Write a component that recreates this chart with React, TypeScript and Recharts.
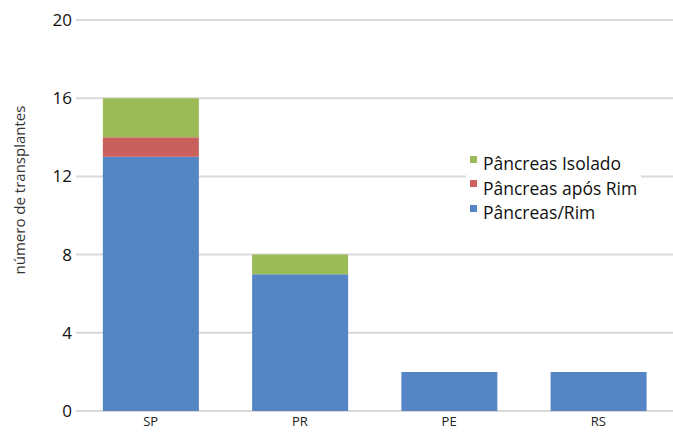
import React from 'react'
import { BarChart, Bar, XAxis, YAxis, CartesianGrid } from 'recharts'

const states = ['SP', 'PR', 'PE', 'RS']
const pancreasRim = [13, 7, 2, 2]
const pancreasAposRim = [1, 0, 0, 0]
const pancreasIsolado = [2, 1, 0, 0]
const yTicks = [0, 4, 8, 12, 16, 20]

const series = [
  { key: 'isolado', name: 'Pâncreas Isolado', color: '#9bbb59' },
  { key: 'aposRim', name: 'Pâncreas após Rim', color: '#c9605b' },
  { key: 'rim', name: 'Pâncreas/Rim', color: '#5585c4' }
]

const data = states.map((s, i) => ({
  state: s,
  rim: pancreasRim[i],
  aposRim: pancreasAposRim[i],
  isolado: pancreasIsolado[i]
}))

const font = '"Open Sans", "Liberation Sans", sans-serif'

export default function App() {
  return (
    <div style={{ position: 'absolute', left: 0, top: 0, width: 673, height: 432, background: '#fff', fontFamily: font }}>
      <BarChart
        width={673}
        height={432}
        data={data}
        margin={{ top: 20, right: 0, bottom: 0, left: 0 }}
        barCategoryGap="18%"
      >
        <CartesianGrid vertical={false} stroke="#d9d9d9" strokeWidth={2} />
        <XAxis
          dataKey="state"
          height={21}
          axisLine={false}
          tickLine={false}
          tickSize={0}
          tickMargin={6}
          tick={{ fontSize: 13, fill: '#222', fontFamily: font }}
        />
        <YAxis
          width={76}
          domain={[0, 20]}
          ticks={yTicks}
          axisLine={false}
          tickLine={false}
          tickSize={0}
          tickMargin={4}
          tick={{ fontSize: 17, fill: '#111', fontFamily: font }}
        />
        <Bar dataKey="rim" stackId="a" fill="#5585c4" isAnimationActive={false} />
        <Bar dataKey="aposRim" stackId="a" fill="#c9605b" isAnimationActive={false} />
        <Bar dataKey="isolado" stackId="a" fill="#9bbb59" isAnimationActive={false} />
      </BarChart>
      <div
        style={{
          position: 'absolute',
          left: 19,
          top: 190,
          transform: 'translate(-50%, -50%) rotate(-90deg)',
          whiteSpace: 'nowrap',
          fontSize: 15,
          color: '#333'
        }}
      >
        número de transplantes
      </div>
      <div style={{ position: 'absolute', left: 466, top: 149, background: '#fff', padding: '2px 4px' }}>
        {series.map((s) => (
          <div key={s.key} style={{ display: 'flex', alignItems: 'center', height: 24.5, fontSize: 17.5, color: '#111' }}>
            <span style={{ display: 'inline-block', width: 7, height: 7, background: s.color, marginRight: 6, marginTop: -8 }} />
            {s.name}
          </div>
        ))}
      </div>
    </div>
  )
}
